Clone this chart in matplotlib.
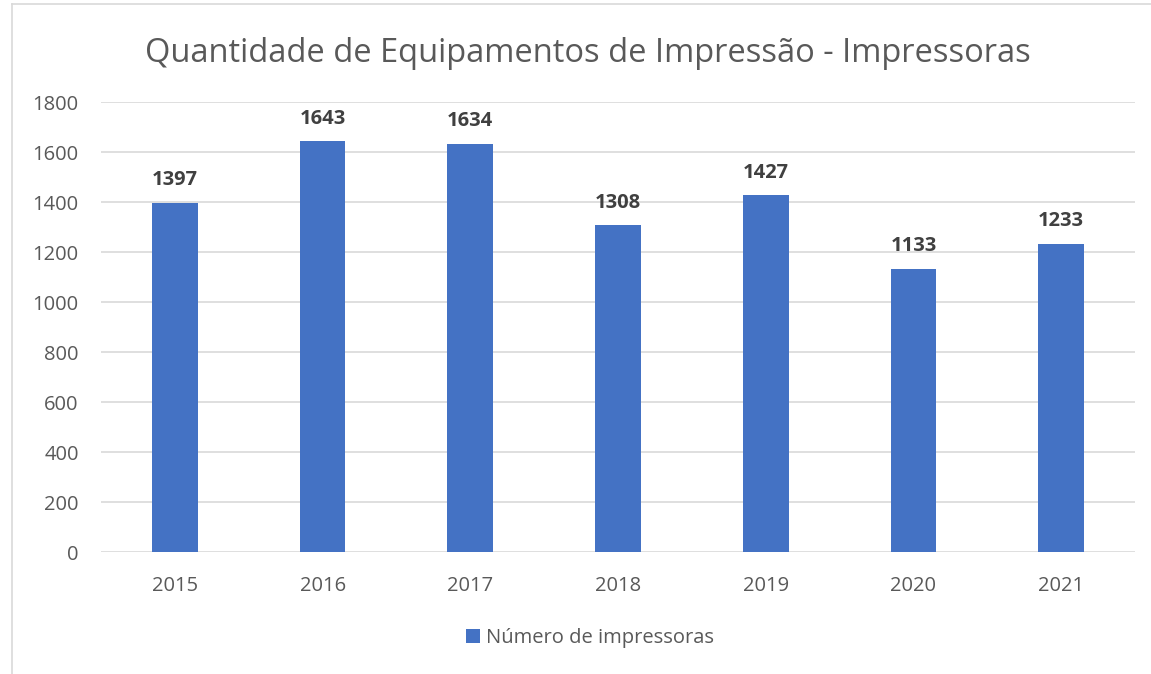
import matplotlib.pyplot as plt
from matplotlib.lines import Line2D

anos = ["2015", "2016", "2017", "2018", "2019", "2020", "2021"]
impressoras = [1397, 1643, 1634, 1308, 1427, 1133, 1233]

W, H = 1151, 674
plt.rcParams['font.family'] = ['Open Sans', 'DejaVu Sans']

fig = plt.figure(figsize=(W / 100, H / 100), dpi=100)
ax = fig.add_axes([101 / W, 1 - 552 / H, (1135 - 101) / W, 450 / H])

x = range(len(anos))
bars = ax.bar(x, impressoras, width=0.31, color="#4472C4", zorder=3,
              label="Número de impressoras")
for b, v in zip(bars, impressoras):
    ax.text(b.get_x() + b.get_width() / 2, v + 50, str(v), ha="center",
            va="bottom", fontsize=14.5, fontweight="bold", color="#404040")

ax.set_xlim(-0.5, len(anos) - 0.5)
ax.set_ylim(0, 1800)
ax.set_yticks(range(0, 1801, 200))
ax.set_xticks(list(x))
ax.set_xticklabels(anos)
ax.grid(axis="y", color="#d9d9d9", linewidth=1.2, zorder=0)
for s in ax.spines.values():
    s.set_visible(False)
ax.tick_params(length=0, labelsize=14.5, colors="#595959")
ax.tick_params(axis="y", pad=16)
ax.tick_params(axis="x", pad=17)

fig.text(588 / W, 1 - 53 / H, "Quantidade de Equipamentos de Impressão - Impressoras",
         ha="center", va="center", fontsize=23.5, color="#595959")

ax.legend(loc="center", bbox_to_anchor=(590 / W, 1 - 638 / H),
          bbox_transform=fig.transFigure, frameon=False, fontsize=14.5,
          handlelength=0.7, handleheight=0.7, handletextpad=0.3,
          labelcolor="#595959")

# moldura do gráfico
fig.add_artist(Line2D([12 / W, 12 / W], [0, 1 - 4 / H], color="#d9d9d9", lw=1.2))
fig.add_artist(Line2D([12 / W, 1], [1 - 4 / H, 1 - 4 / H], color="#d9d9d9", lw=1.2))

fig.savefig("out.png", dpi=100, facecolor="white")
